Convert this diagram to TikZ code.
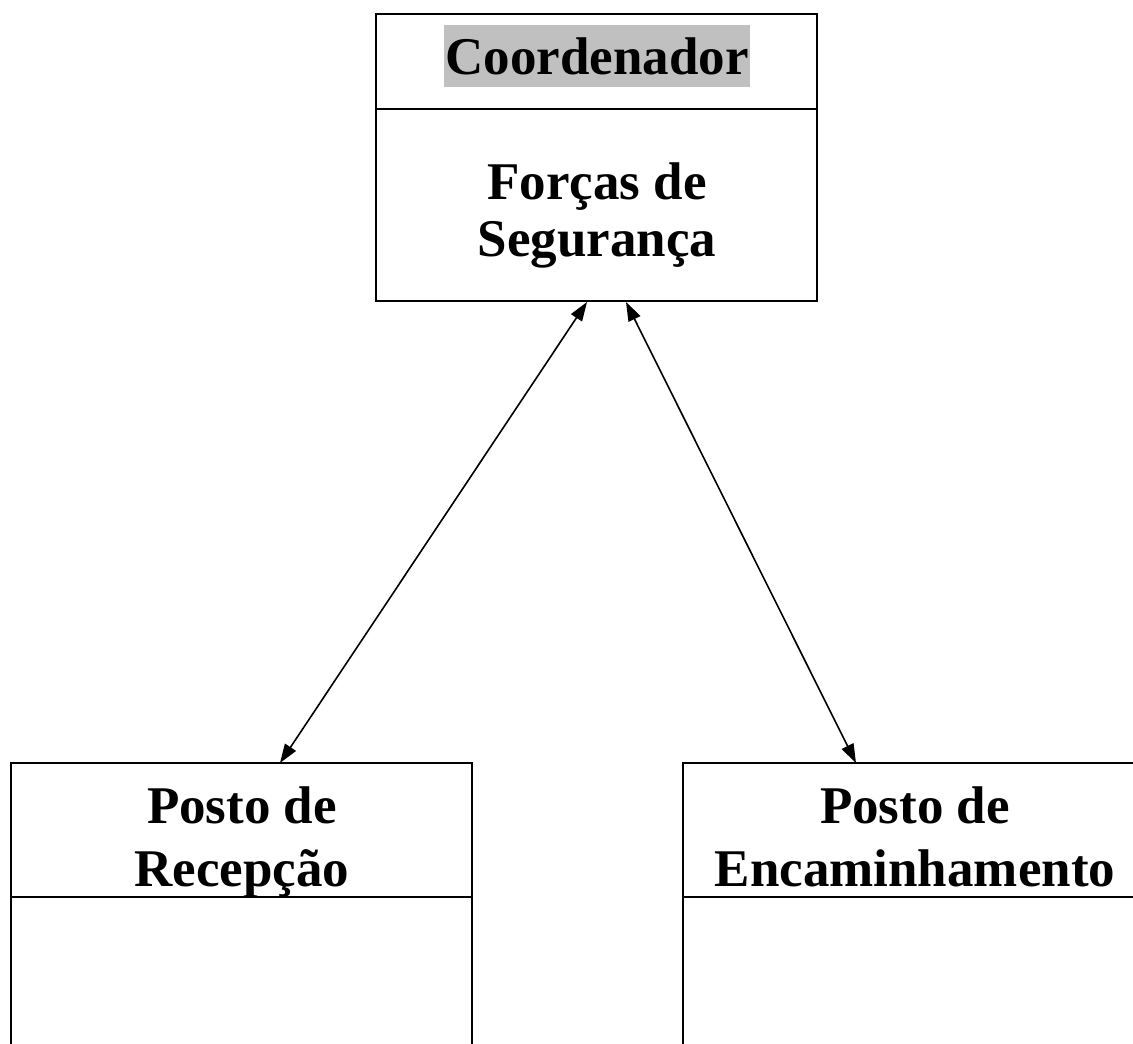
\documentclass[tikz,border=0pt]{standalone}
\usepackage{fontspec}
\setmainfont{Liberation Serif}
\usetikzlibrary{arrows.meta}
\definecolor{hlgrey}{HTML}{C0C0C0}
\tikzset{
  boxshape/.style={draw=black, line width=2pt, rectangle, inner sep=0pt, outer sep=0pt},
  divider/.style={draw=black, line width=2pt},
  lbl/.style={font=\bfseries\fontsize{53}{60}\selectfont, inner sep=0pt, anchor=base},
  conn/.style={draw=black, line width=1.6pt, {Triangle[length=19pt,width=13pt]}-{Triangle[length=19pt,width=13pt]}}
}
\begin{document}
\begin{tikzpicture}[x=1pt,y=-1pt]
\useasboundingbox (0,0) rectangle (1133,1044);
\clip (0,0) rectangle (1133,1044);
\fill[white] (0,0) rectangle (1133,1044);
% top box
\node[boxshape, minimum width=441pt, minimum height=287pt] (coordbox) at (596.5,157.5) {};
\draw[divider] (376,109) -- (817,109);
\fill[hlgrey] (444,25) rectangle (750,87);
\node[lbl] (coordlbl) at (597,74) {Coordenador};
\node[lbl] (forcas1) at (597,199) {Forças de};
\node[lbl] (forcas2) at (597,256) {Segurança};
% bottom left box
\node[boxshape, minimum width=461pt, minimum height=300pt] (recbox) at (241.5,913) {};
\draw[divider] (11,897) -- (472,897);
\node[lbl] (rec1) at (242,823) {Posto de};
\node[lbl] (rec2) at (242,886) {Recepção};
% bottom right box
\node[boxshape, minimum width=464pt, minimum height=300pt] (encbox) at (915,913) {};
\draw[divider] (683,897) -- (1147,897);
\node[lbl] (enc1) at (915,823) {Posto de};
\node[lbl] (enc2) at (915,886) {Encaminhamento};
% connectors
\coordinate (cL) at (587,302);
\coordinate (cR) at (626,302);
\coordinate (rT) at (280,763);
\coordinate (eT) at (856,763);
\draw[conn] (cL) -- (rT);
\draw[conn] (cR) -- (eT);
\end{tikzpicture}
\end{document}
